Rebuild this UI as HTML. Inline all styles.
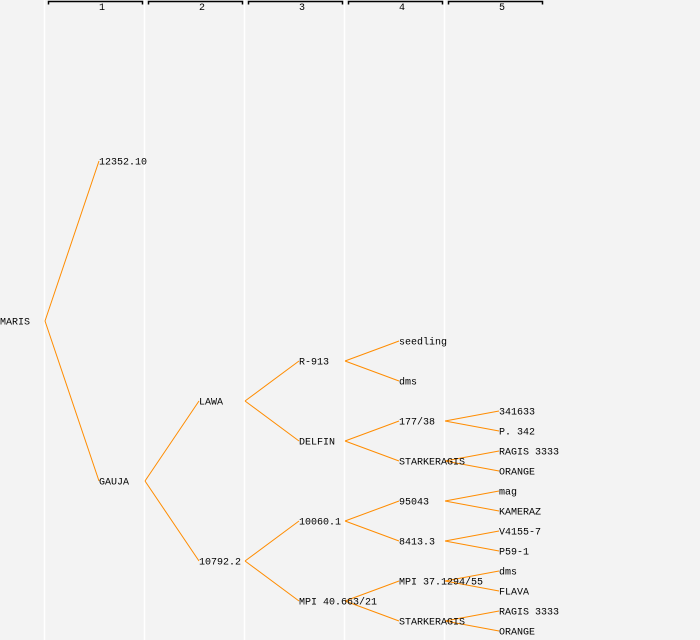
<!DOCTYPE html>
<html><head><style>
html,body{margin:0;padding:0;background:#f3f3f3;}
svg{display:block}
text{font-family:"Liberation Mono",monospace;font-size:10px;fill:#000}
</style></head><body>
<svg width="700" height="640" viewBox="0 0 700 640">
<rect width="700" height="640" fill="#f3f3f3"/>
<g stroke="#fff" stroke-width="1.5">
<line x1="44.5" y1="0" x2="44.5" y2="640"/><line x1="144.5" y1="0" x2="144.5" y2="640"/>
<line x1="244.5" y1="0" x2="244.5" y2="640"/><line x1="344.5" y1="0" x2="344.5" y2="640"/>
<line x1="444.5" y1="0" x2="444.5" y2="640"/>
</g>
<g stroke="#000" stroke-width="1.5" fill="none">
<path d="M48.5,4.5V1.5H142.5V4.5"/><path d="M148.5,4.5V1.5H242.5V4.5"/>
<path d="M248.5,4.5V1.5H342.5V4.5"/><path d="M348.5,4.5V1.5H442.5V4.5"/>
<path d="M448.5,4.5V1.5H542.5V4.5"/>
</g>
<g style="font-size:8px" text-anchor="middle">
<text x="102" y="10">1</text><text x="202" y="10">2</text><text x="302" y="10">3</text><text x="402" y="10">4</text><text x="502" y="10">5</text>
</g>
<g stroke="#ff8c00" stroke-width="1" fill="none">
<path d="M45,321L99,161M45,321L99,481"/>
<path d="M145,481L199,401M145,481L199,561"/>
<path d="M245,401L299,361M245,401L299,441M245,561L299,521M245,561L299,601"/>
<path d="M345,361L399,341M345,361L399,381M345,441L399,421M345,441L399,461"/>
<path d="M345,521L399,501M345,521L399,541M345,601L399,581M345,601L399,621"/>
<path d="M445,421L499,411M445,421L499,431M445,461L499,451M445,461L499,471"/>
<path d="M445,501L499,491M445,501L499,511M445,541L499,531M445,541L499,551"/>
<path d="M445,581L499,571M445,581L499,591M445,621L499,611M445,621L499,631"/>
</g>
<g dominant-baseline="central" transform="translate(0,2)">
<text x="0" y="321">MARIS</text>
<text x="99" y="161">12352.10</text><text x="99" y="481">GAUJA</text>
<text x="199" y="401">LAWA</text><text x="199" y="561">10792.2</text>
<text x="299" y="361">R-913</text><text x="299" y="441">DELFIN</text>
<text x="299" y="521">10060.1</text><text x="299" y="601">MPI 40.663/21</text>
<text x="399" y="341">seedling</text><text x="399" y="381">dms</text>
<text x="399" y="421">177/38</text><text x="399" y="461">STARKERAGIS</text>
<text x="399" y="501">95043</text><text x="399" y="541">8413.3</text>
<text x="399" y="581">MPI 37.1294/55</text><text x="399" y="621">STARKERAGIS</text>
<text x="499" y="411">341633</text><text x="499" y="431">P. 342</text>
<text x="499" y="451">RAGIS 3333</text><text x="499" y="471">ORANGE</text>
<text x="499" y="491">mag</text><text x="499" y="511">KAMERAZ</text>
<text x="499" y="531">V4155-7</text><text x="499" y="551">P59-1</text>
<text x="499" y="571">dms</text><text x="499" y="591">FLAVA</text>
<text x="499" y="611">RAGIS 3333</text><text x="499" y="631">ORANGE</text>
</g>
</svg>
</body></html>
